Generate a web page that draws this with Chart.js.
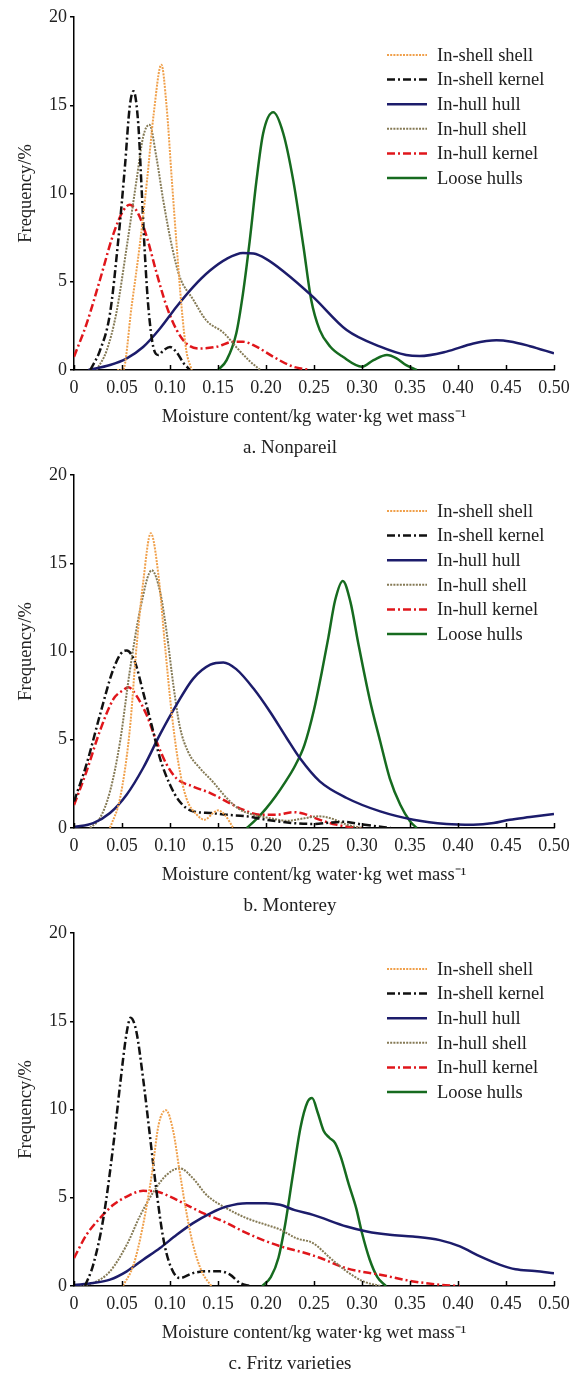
<!DOCTYPE html>
<html>
<head>
<meta charset="utf-8">
<script src="https://cdn.jsdelivr.net/npm/chart.js@4"></script>
<style>
  body { margin: 0; background: #fff; }
  .panel { width: 578px; height: 458px; }
  canvas { display: block; }
</style>
</head>
<body>
<div class="panel"><canvas id="chartA" width="578" height="458"></canvas></div>
<div class="panel"><canvas id="chartB" width="578" height="458"></canvas></div>
<div class="panel"><canvas id="chartC" width="578" height="458"></canvas></div>
<script>
// Series names (legend order)
const seriesNames = ['In-shell shell', 'In-shell kernel', 'In-hull hull', 'In-hull shell', 'In-hull kernel', 'Loose hulls'];
const xTicks = [0, 0.05, 0.10, 0.15, 0.20, 0.25, 0.30, 0.35, 0.40, 0.45, 0.50];
const yTicks = [0, 5, 10, 15, 20];

// a. Nonpareil  [moisture, frequency %]
const nonpareilInShellShell = [[0.045,0],[0.051,0],[0.060,3.6],[0.069,7.3],[0.076,10.7],[0.083,14.5],[0.091,17.3],[0.0965,14.9],[0.102,10.7],[0.107,7.0],[0.112,3.6],[0.117,1.1],[0.1226,0]];
const nonpareilInShellKernel = [[0.017,0],[0.027,1.1],[0.0375,3.2],[0.046,7.3],[0.053,11.5],[0.058,14.9],[0.062,15.8],[0.067,13.9],[0.0705,10.2],[0.074,6.4],[0.0774,3.6],[0.0826,1.3],[0.088,0.85],[0.093,1.1],[0.100,1.3],[0.107,1.0],[0.114,0.4],[0.121,0]];
const nonpareilInHullHull = [[0.015,0],[0.0375,0.28],[0.055,0.66],[0.072,1.3],[0.0896,2.35],[0.107,3.6],[0.124,4.7],[0.142,5.65],[0.159,6.3],[0.176,6.63],[0.187,6.6],[0.200,6.3],[0.218,5.6],[0.249,4.14],[0.284,2.26],[0.319,1.32],[0.346,0.85],[0.36,0.79],[0.388,1.04],[0.416,1.5],[0.44,1.68],[0.454,1.62],[0.475,1.35],[0.50,0.95]];
const nonpareilInHullShell = [[0.0236,0],[0.034,1.1],[0.044,3.2],[0.055,7.0],[0.065,10.7],[0.072,13.2],[0.0785,13.9],[0.086,12.0],[0.093,9.6],[0.102,7.0],[0.110,5.3],[0.124,4.0],[0.138,2.8],[0.156,2.1],[0.169,1.3],[0.182,0.56],[0.194,0]];
const nonpareilInHullKernel = [[0,0.75],[0.013,2.6],[0.027,5.1],[0.041,7.7],[0.051,9.0],[0.058,9.36],[0.067,8.85],[0.076,7.5],[0.086,5.5],[0.0965,3.6],[0.107,2.26],[0.117,1.5],[0.131,1.22],[0.149,1.32],[0.166,1.6],[0.176,1.6],[0.19,1.32],[0.2076,0.75],[0.228,0.19],[0.246,0]];
const nonpareilLooseHulls = [[0.150,0],[0.159,0.56],[0.169,2.07],[0.176,4.33],[0.183,7.3],[0.19,10.7],[0.197,13.4],[0.2076,14.6],[0.218,13.4],[0.2285,10.7],[0.239,7.0],[0.247,4.0],[0.256,2.26],[0.267,1.32],[0.28,0.75],[0.30,0.19],[0.312,0.56],[0.326,0.85],[0.336,0.66],[0.346,0.28],[0.357,0]];

// b. Monterey
const montereyInShellShell = [[0.0375,0],[0.048,1.7],[0.058,5.5],[0.065,10.2],[0.072,13.9],[0.080,16.7],[0.088,14.3],[0.095,10.2],[0.102,6.4],[0.109,3.6],[0.117,1.7],[0.128,0.75],[0.136,0.47],[0.145,0.85],[0.15,1.0],[0.157,0.75],[0.166,0]];
const montereyInShellKernel = [[0,1.5],[0.013,3.6],[0.027,6.4],[0.041,9.0],[0.051,10.0],[0.055,10.05],[0.0635,9.4],[0.072,7.7],[0.081,5.8],[0.0896,3.95],[0.100,2.45],[0.110,1.5],[0.124,0.94],[0.142,0.85],[0.159,0.75],[0.18,0.66],[0.20,0.47],[0.228,0.28],[0.25,0.23],[0.265,0.3],[0.28,0.35],[0.30,0.2],[0.315,0.1],[0.33,0]];
const montereyInHullHull = [[0,0.05],[0.02,0.28],[0.0375,0.85],[0.055,1.9],[0.072,3.4],[0.0896,5.3],[0.107,7.0],[0.124,8.45],[0.142,9.25],[0.1556,9.38],[0.169,9.0],[0.187,7.9],[0.204,6.6],[0.2215,5.1],[0.2354,3.95],[0.256,2.64],[0.284,1.7],[0.319,0.94],[0.3535,0.47],[0.388,0.23],[0.416,0.19],[0.437,0.28],[0.454,0.47],[0.475,0.62],[0.50,0.8]];
const montereyInHullShell = [[0.0167,0],[0.027,0.56],[0.0375,2.07],[0.048,4.9],[0.058,8.85],[0.069,12.4],[0.081,14.6],[0.0896,13.4],[0.0965,11.1],[0.1035,8.1],[0.110,5.8],[0.119,4.3],[0.131,3.4],[0.145,2.6],[0.159,1.7],[0.173,1.04],[0.187,0.75],[0.204,0.56],[0.2215,0.41],[0.24,0.55],[0.255,0.66],[0.267,0.56],[0.284,0.19],[0.30,0]];
const montereyInHullKernel = [[0,1.3],[0.013,3.2],[0.027,5.5],[0.041,7.3],[0.051,7.8],[0.0566,7.97],[0.065,7.5],[0.0757,6.4],[0.086,4.9],[0.0965,3.6],[0.107,2.8],[0.124,2.35],[0.142,1.98],[0.159,1.5],[0.176,1.04],[0.194,0.75],[0.211,0.75],[0.228,0.9],[0.24,0.8],[0.249,0.6],[0.273,0.19],[0.29,0.04],[0.30,0]];
const montereyLooseHulls = [[0.18,0],[0.19,0.5],[0.20,1.1],[0.21,1.8],[0.22,2.6],[0.23,3.5],[0.24,4.7],[0.25,6.7],[0.258,8.8],[0.265,10.8],[0.272,12.9],[0.28,14.0],[0.288,12.8],[0.296,10.5],[0.308,7.3],[0.319,4.9],[0.329,2.8],[0.34,1.3],[0.35,0.38],[0.357,0]];

// c. Fritz varieties
const fritzInShellShell = [[0.051,0],[0.062,1.2],[0.072,3.47],[0.081,6.3],[0.088,9.1],[0.0958,9.96],[0.1035,8.74],[0.110,6.5],[0.117,4.2],[0.124,2.34],[0.133,0.83],[0.143,0]];
const fritzInShellKernel = [[0.0115,0],[0.02,1.2],[0.0306,3.84],[0.041,8.0],[0.048,11.4],[0.055,14.4],[0.059,15.2],[0.065,14.4],[0.072,11.75],[0.079,8.55],[0.086,5.35],[0.093,2.7],[0.100,1.2],[0.110,0.45],[0.124,0.73],[0.138,0.83],[0.152,0.83],[0.1625,0.64],[0.173,0.17],[0.183,0]];
const fritzInHullHull = [[0,0.05],[0.02,0.17],[0.0375,0.36],[0.055,0.83],[0.072,1.49],[0.0896,2.15],[0.107,2.9],[0.124,3.56],[0.142,4.12],[0.159,4.5],[0.18,4.69],[0.20,4.69],[0.2146,4.6],[0.23,4.3],[0.249,4.03],[0.284,3.37],[0.305,3.09],[0.329,2.9],[0.353,2.8],[0.381,2.6],[0.402,2.24],[0.423,1.68],[0.444,1.2],[0.46,0.95],[0.48,0.85],[0.50,0.72]];
const fritzInHullShell = [[0.006,0],[0.02,0.17],[0.0375,0.83],[0.055,2.34],[0.069,4.0],[0.083,5.35],[0.0965,6.3],[0.110,6.67],[0.124,6.1],[0.138,5.16],[0.159,4.4],[0.18,3.84],[0.20,3.47],[0.2146,3.2],[0.232,2.7],[0.249,2.43],[0.267,1.58],[0.284,0.83],[0.3014,0.26],[0.319,0]];
const fritzInHullKernel = [[0,1.58],[0.013,2.9],[0.027,3.84],[0.041,4.6],[0.055,5.07],[0.072,5.39],[0.086,5.35],[0.100,5.07],[0.117,4.6],[0.135,4.12],[0.156,3.65],[0.176,3.1],[0.197,2.6],[0.218,2.2],[0.239,1.9],[0.256,1.6],[0.284,1.0],[0.319,0.64],[0.3535,0.26],[0.381,0.075],[0.402,0]];
const fritzLooseHulls = [[0.196,0],[0.205,0.5],[0.213,1.6],[0.22,3.5],[0.228,6.3],[0.236,9.0],[0.243,10.4],[0.248,10.65],[0.254,9.8],[0.26,8.8],[0.266,8.4],[0.272,8.1],[0.278,7.3],[0.286,5.8],[0.294,4.4],[0.30,3.0],[0.308,1.5],[0.316,0.5],[0.325,0]];

const FONT = "'Liberation Serif', 'Times New Roman', serif";

// line styles per series
const styles = [
    { color: '#f0a04b', dash: [2, 1.2], width: 2 },
    { color: '#111111', dash: [8, 3, 2, 3], width: 2.5 },
    { color: '#1c1c6b', dash: [], width: 2.5 },
    { color: '#857a55', dash: [2, 1.2], width: 2 },
    { color: '#e0161b', dash: [8, 3, 2, 3], width: 2.5 },
    { color: '#166b1f', dash: [], width: 2.5 }
];

// inward ticks on the x axis
const innerTicks = {
    id: 'innerTicks',
    afterDraw(chart) {
        const ctx = chart.ctx;
        const xs = chart.scales.x;
        const bottom = chart.chartArea.bottom;
        ctx.save();
        ctx.strokeStyle = '#000';
        ctx.lineWidth = 1.5;
        xs.ticks.forEach(t => {
            const px = Math.round(xs.getPixelForValue(t.value)) + 0.5;
            ctx.beginPath();
            ctx.moveTo(px, bottom);
            ctx.lineTo(px, bottom - 5);
            ctx.stroke();
        });
        ctx.restore();
    }
};

// legend drawn inside the plot (top right) and the panel caption underneath
const boxLegend = {
    id: 'boxLegend',
    afterDraw(chart, args, opts) {
        const ctx = chart.ctx;
        ctx.save();
        ctx.font = '18.5px ' + FONT;
        ctx.textBaseline = 'middle';
        chart.data.datasets.forEach((ds, i) => {
            const y = opts.top + i * 24.6;
            ctx.strokeStyle = ds.borderColor;
            ctx.lineWidth = ds.borderWidth;
            ctx.setLineDash(ds.borderDash);
            ctx.beginPath();
            ctx.moveTo(387, y);
            ctx.lineTo(427, y);
            ctx.stroke();
            ctx.setLineDash([]);
            ctx.fillStyle = '#222';
            ctx.fillText(ds.label, 437, y + 1);
        });
        ctx.font = '19px ' + FONT;
        ctx.textAlign = 'center';
        ctx.fillText(opts.caption, 290, 448);
        ctx.restore();
    }
};

function makeChart(id, caption, seriesList, legendTop) {
    const datasets = seriesList.map((pts, i) => ({
        label: seriesNames[i],
        data: pts.map(p => ({ x: p[0], y: p[1] })),
        borderColor: styles[i].color,
        borderDash: styles[i].dash,
        borderWidth: styles[i].width,
        pointRadius: 0,
        fill: false,
        cubicInterpolationMode: 'monotone'
    }));

    return new Chart(document.getElementById(id), {
        type: 'line',
        data: { datasets },
        options: {
            responsive: false,
            animation: false,
            layout: { padding: { top: 17, right: 24, left: 0, bottom: 0 } },
            plugins: {
                legend: { display: false },
                tooltip: { enabled: false },
                title: { display: false },
                boxLegend: { top: legendTop, caption: caption }
            },
            scales: {
                x: {
                    type: 'linear',
                    min: 0,
                    max: 0.5,
                    afterBuildTicks: s => { s.ticks = xTicks.map(v => ({ value: v })); },
                    afterFit: s => { s.height = 88; },
                    grid: { drawOnChartArea: false, drawTicks: false },
                    border: { display: true, color: '#000', width: 1.5 },
                    ticks: {
                        autoSkip: false,
                        maxRotation: 0,
                        padding: 7,
                        color: '#222',
                        font: { family: FONT, size: 18 },
                        callback: v => v === 0 ? '0' : v.toFixed(2)
                    },
                    title: {
                        display: true,
                        text: 'Moisture content/kg water·kg wet mass⁻¹',
                        color: '#222',
                        font: { family: FONT, size: 18.5 },
                        padding: { top: 0, bottom: 30 }
                    }
                },
                y: {
                    min: 0,
                    max: 20,
                    afterBuildTicks: s => { s.ticks = yTicks.map(v => ({ value: v })); },
                    afterFit: s => { s.width = 74; },
                    grid: { drawOnChartArea: false, drawTicks: true, tickLength: 4, color: '#000', lineWidth: 1.5 },
                    border: { display: true, color: '#000', width: 1.5 },
                    ticks: {
                        padding: 3,
                        color: '#222',
                        font: { family: FONT, size: 18 }
                    },
                    title: {
                        display: true,
                        text: 'Frequency/%',
                        color: '#222',
                        font: { family: FONT, size: 18.5 },
                        padding: { top: 15, bottom: 0 }
                    }
                }
            }
        },
        plugins: [innerTicks, boxLegend]
    });
}

makeChart('chartA', 'a. Nonpareil', [nonpareilInShellShell, nonpareilInShellKernel, nonpareilInHullHull, nonpareilInHullShell, nonpareilInHullKernel, nonpareilLooseHulls], 55);
makeChart('chartB', 'b. Monterey', [montereyInShellShell, montereyInShellKernel, montereyInHullHull, montereyInHullShell, montereyInHullKernel, montereyLooseHulls], 53);
makeChart('chartC', 'c. Fritz varieties', [fritzInShellShell, fritzInShellKernel, fritzInHullHull, fritzInHullShell, fritzInHullKernel, fritzLooseHulls], 53);
</script>
</body>
</html>
